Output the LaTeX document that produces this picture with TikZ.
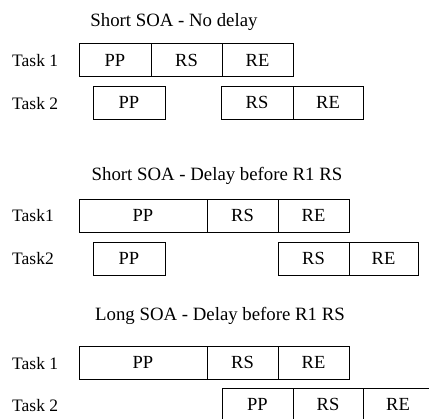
\documentclass[tikz,border=0pt]{standalone}
\usepackage{fontspec}
\setmainfont{Liberation Serif}
\begin{document}
\begin{tikzpicture}[x=1pt,y=-1pt,
  cell/.style={draw=black, line width=0.9pt, inner sep=0pt, minimum height=33pt,
    font=\fontsize{18.5}{20}\selectfont},
  tasklbl/.style={anchor=west, inner sep=0pt, font=\fontsize{17.5}{20}\selectfont},
  ttl/.style={inner sep=0pt, font=\fontsize{18.8}{22}\selectfont}]
\useasboundingbox (0,0) rectangle (429,419);
\clip (0,0) rectangle (429,419);
% Panel 1
\node[ttl] (t1) at (174,22) {Short SOA - No delay};
\node[tasklbl] (a1) at (12,61) {Task 1};
\node[cell, minimum width=72pt] (a1pp) at (115,60) {PP};
\node[cell, minimum width=71pt] (a1rs) at (186.5,60) {RS};
\node[cell, minimum width=71pt] (a1re) at (257.5,60) {RE};
\node[tasklbl] (a2) at (12,104) {Task 2};
\node[cell, minimum width=72pt] (a2pp) at (129,102.5) {PP};
\node[cell, minimum width=72pt] (a2rs) at (257,102.5) {RS};
\node[cell, minimum width=70pt] (a2re) at (328,102.5) {RE};
% Panel 2
\node[ttl] (t2) at (217,176) {Short SOA - Delay before R1 RS};
\node[tasklbl] (b1) at (12,216) {Task1};
\node[cell, minimum width=128pt] (b1pp) at (143,215.5) {PP};
\node[cell, minimum width=71pt] (b1rs) at (242.5,215.5) {RS};
\node[cell, minimum width=71pt] (b1re) at (313.5,215.5) {RE};
\node[tasklbl] (b2) at (12,259) {Task2};
\node[cell, minimum width=72pt] (b2pp) at (129,258.5) {PP};
\node[cell, minimum width=71pt] (b2rs) at (313.5,258.5) {RS};
\node[cell, minimum width=69pt] (b2re) at (383.5,258.5) {RE};
% Panel 3
\node[ttl] (t3) at (220,316) {Long SOA - Delay before R1 RS};
\node[tasklbl] (c1) at (12,364) {Task 1};
\node[cell, minimum width=128pt] (c1pp) at (143,362.5) {PP};
\node[cell, minimum width=71pt] (c1rs) at (242.5,362.5) {RS};
\node[cell, minimum width=71pt] (c1re) at (313.5,362.5) {RE};
\node[tasklbl] (c2) at (12,406) {Task 2};
\node[cell, minimum width=71pt] (c2pp) at (257.5,404.5) {PP};
\node[cell, minimum width=70pt] (c2rs) at (328,404.5) {RS};
\node[cell, minimum width=70pt] (c2re) at (398,404.5) {RE};
\end{tikzpicture}
\end{document}
